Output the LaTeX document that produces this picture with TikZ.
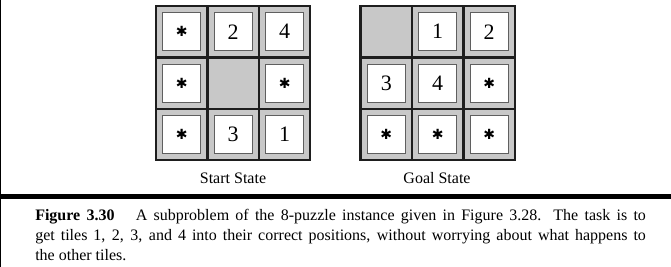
\documentclass[tikz,border=0pt]{standalone}
\usepackage{fontspec}
\setmainfont{Liberation Serif}
\newfontfamily\simbolo{DejaVu Sans Bold}
\usetikzlibrary{positioning}
\definecolor{grisclaro}{RGB}{200,200,200}
\definecolor{grisborde}{RGB}{95,95,95}
\definecolor{negrorejilla}{RGB}{30,30,30}
\tikzset{
  casilla/.style={
    draw=negrorejilla,
    fill=grisclaro,
    line width=1.6pt,
    minimum size=38.6pt,
    inner sep=0pt,
    outer sep=0pt
  },
  ficha/.style={
    draw=grisborde,
    fill=white,
    line width=1pt,
    minimum size=28.5pt,
    inner sep=0pt,
    font=\fontsize{16.5}{18}\selectfont
  },
  rotulo/.style={
    anchor=base,
    inner sep=0pt,
    font=\fontsize{12}{14}\selectfont
  }
}
\newcommand{\estrella}{{\simbolo\fontsize{10.5}{10.5}\selectfont ✱}}

\begin{document}
\begin{tikzpicture}[node distance=0pt]
\useasboundingbox (0,0) rectangle (503.25pt,-200.25pt);
% estado inicial
\node[casilla, label={[ficha]center:\estrella}] (s11) at (136.3pt,-23.8pt) {};
\node[casilla, right=of s11, label={[ficha]center:2}] (s12) {};
\node[casilla, right=of s12, label={[ficha]center:4}] (s13) {};
\node[casilla, below=of s11, label={[ficha]center:\estrella}] (s21) {};
\node[casilla, right=of s21] (s22) {};
\node[casilla, right=of s22, label={[ficha]center:\estrella}] (s23) {};
\node[casilla, below=of s21, label={[ficha]center:\estrella}] (s31) {};
\node[casilla, right=of s31, label={[ficha]center:3}] (s32) {};
\node[casilla, right=of s32, label={[ficha]center:1}] (s33) {};
% estado meta
\node[casilla] (g11) at (289.7pt,-23.8pt) {};
\node[casilla, right=of g11, label={[ficha]center:1}] (g12) {};
\node[casilla, right=of g12, label={[ficha]center:2}] (g13) {};
\node[casilla, below=of g11, label={[ficha]center:3}] (g21) {};
\node[casilla, right=of g21, label={[ficha]center:4}] (g22) {};
\node[casilla, right=of g22, label={[ficha]center:\estrella}] (g23) {};
\node[casilla, below=of g21, label={[ficha]center:\estrella}] (g31) {};
\node[casilla, right=of g31, label={[ficha]center:\estrella}] (g32) {};
\node[casilla, right=of g32, label={[ficha]center:\estrella}] (g33) {};
% rotulos
\node[rotulo] (inicio) at (174.75pt,-137.3pt) {Start State};
\node[rotulo] (meta) at (327.75pt,-137.3pt) {Goal State};
% marco y pie
\draw[line width=1pt] (0.5pt,0) -- (0.5pt,-200.25pt);
\draw[line width=3.75pt] (0,-147.4pt) -- (503.25pt,-147.4pt);
\node[anchor=base west, text width=458pt, align=justify, inner sep=0pt,
  font=\fontsize{12}{15}\selectfont] (pie) at (26.25pt,-165pt)
  {\textbf{Figure 3.30}\hspace{16pt}A subproblem of the 8-puzzle instance given in Figure 3.28. The task is to\linebreak
   get tiles 1, 2, 3, and 4 into their correct positions, without worrying about what happens to\linebreak
   the other tiles.};
\end{tikzpicture}
\end{document}
